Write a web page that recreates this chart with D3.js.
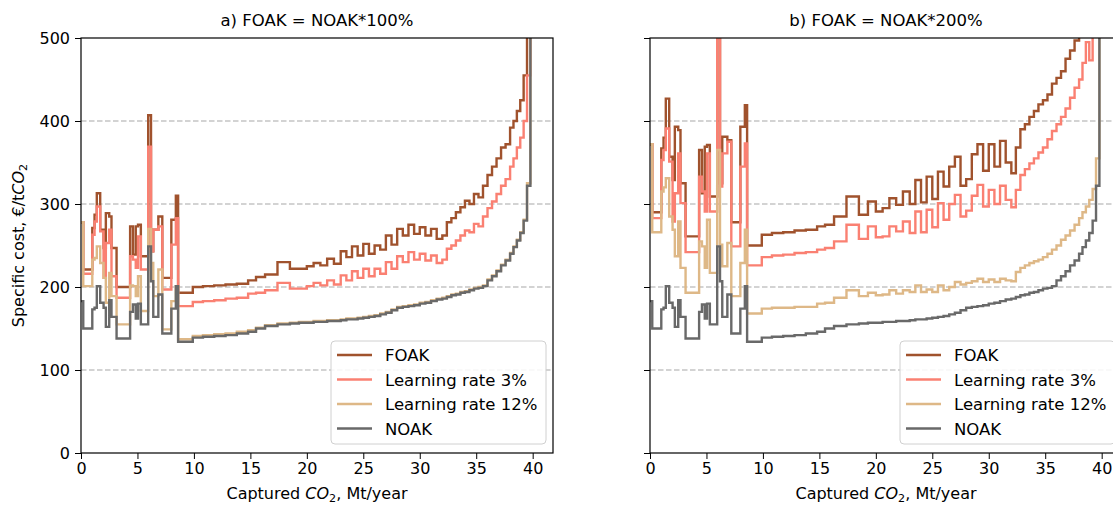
<!DOCTYPE html>
<html>
<head>
<meta charset="utf-8">
<script src="https://cdn.jsdelivr.net/npm/d3@7"></script>
<style>
  body { margin: 0; background: #fff; }
  svg text { font-family: "DejaVu Sans", sans-serif; fill: #000; }
</style>
</head>
<body>
<div id="chart"></div>
<script>
// Cumulative captured CO2 (Mt/year) where each plant step starts
const capacity = [
  0, 0.2, 1.0, 1.2, 1.4, 1.7, 2.0, 2.2, 2.5, 2.7,
  3.15, 4.35, 4.6, 4.85, 5.05, 5.3, 5.95, 6.2, 6.4, 6.85,
  7.2, 8.0, 8.4,
  8.6, 9.9, 10.8, 11.8, 12.8, 13.8, 14.8, 15.5, 16.3, 17.4,
  18.5, 19.3, 20.0, 20.6, 21.2, 21.8, 22.4, 23.0, 23.5, 24.0,
  24.5, 25.0, 25.5, 26.0, 26.5, 27.0, 27.5, 28.0, 28.5, 29.0,
  29.5, 30.0, 30.5, 31.0, 31.5, 32.0, 32.4, 32.8, 33.2, 33.6,
  34.0, 34.4, 34.8, 35.2, 35.6, 36.0, 36.4, 36.8, 37.2, 37.6,
  38.0, 38.3, 38.6, 38.9, 39.2, 39.5, 39.8
];
const capacityEnd = 39.85;

// NOAK cost, same in both panels (€/tCO2)
const noak = [
  183, 150, 173, 175, 201, 181, 175, 152, 184, 164,
  138, 170, 179, 162, 180, 155, 249, 207, 164, 191,
  144, 174, 201,
  134, 139, 140, 141, 142, 144, 146, 150, 153, 155,
  156, 157, 157, 158, 158, 159, 159, 160, 161, 161,
  162, 163, 164, 165, 167, 169, 172, 175, 176, 177,
  178, 180, 181, 183, 185, 186, 188, 190, 191, 193,
  194, 196, 198, 199, 201, 208, 213, 219, 226, 232,
  240, 248, 256, 265, 280, 322, 900
];

// panel a) FOAK = NOAK*100%
const foakA = [
  278, 221, 271, 287, 313, 269, 247, 289, 285, 247,
  200, 273, 239, 273, 275, 237, 407, 243, 269, 285,
  211, 281, 310,
  193, 200, 201, 202, 203, 204, 208, 212, 215, 230,
  222, 222, 225, 229, 226, 234, 228, 243, 236, 249,
  238, 252, 240, 250, 245, 262, 251, 270, 262, 275,
  264, 272, 262, 270, 258, 262, 278, 283, 290, 296,
  304, 300, 312, 308, 322, 335, 345, 355, 368, 372,
  392, 400, 412, 425, 455, 505, 900
];
const lr3A = [
  278, 216, 263, 279, 297, 267, 211, 253, 269, 213,
  187, 237, 233, 223, 261, 221, 369, 243, 269, 273,
  197, 251, 283,
  177, 182, 183, 184, 186, 187, 192, 193, 196, 205,
  198, 198, 201, 205, 202, 208, 203, 214, 208, 219,
  211, 222, 213, 222, 216, 230, 222, 237, 230, 242,
  233, 240, 232, 238, 229, 233, 246, 250, 256, 262,
  268, 266, 276, 273, 285, 295, 303, 312, 322, 330,
  345, 355, 368, 380, 400, 455, 900
];
const lr12A = [
  278, 201, 233, 235, 249, 229, 211, 181, 217, 189,
  155, 202, 201, 189, 213, 171, 270, 229, 189, 221,
  149, 183, 201,
  137, 141, 142, 143, 144, 146, 148, 151, 154, 156,
  157, 158, 158, 159, 159, 160, 160, 161, 162, 162,
  163, 164, 165, 166, 168, 170, 173, 176, 177, 178,
  179, 181, 182, 184, 186, 187, 189, 191, 192, 194,
  195, 197, 199, 200, 202, 209, 214, 220, 227, 233,
  241, 249, 257, 266, 281, 325, 900
];

// panel b) FOAK = NOAK*200%
const foakB = [
  372, 290, 367, 380, 427, 357, 329, 393, 389, 325,
  261, 365, 313, 369, 371, 309, 700, 325, 381, 377,
  278, 393, 419,
  250, 263, 265, 266, 268, 269, 273, 275, 285, 309,
  287, 303, 291, 295, 307, 299, 315, 300, 329, 302,
  333, 306, 339, 321, 345, 357, 322, 330, 360, 372,
  340, 372, 345, 376, 350, 337, 368, 390, 396, 405,
  412, 420, 425, 432, 445, 452, 460, 475, 485, 497,
  520, 540, 560, 600, 650, 700, 900
];
const lr3B = [
  372, 283, 353, 365, 391, 351, 279, 313, 361, 301,
  242, 333, 315, 291, 361, 291, 600, 321, 361, 375,
  249, 345, 373,
  226, 236, 238, 239, 241, 242, 245, 247, 255, 275,
  258, 273, 260, 261, 273, 267, 279, 265, 291, 266,
  293, 272, 301, 281, 300, 311, 285, 292, 310, 323,
  297, 317, 300, 322, 305, 296, 317, 335, 342, 349,
  355, 362, 368, 378, 388, 396, 405, 415, 428, 440,
  450, 470, 495, 473, 520, 600, 900
];
const lr12B = [
  372, 266, 315, 320, 331, 285, 269, 237, 279, 223,
  193, 255, 249, 223, 281, 217, 365, 251, 225, 253,
  189, 229, 269,
  168, 174, 175, 175, 176, 176, 180, 181, 187, 196,
  189, 193, 190, 191, 196, 192, 196, 194, 202, 194,
  197, 194, 202, 196, 200, 206, 203, 205, 207, 210,
  206, 209, 206, 210, 208, 207, 218, 223, 226, 229,
  231, 233, 236, 240, 245, 250, 257, 262, 268, 275,
  283, 290, 297, 305, 318, 355, 900
];

const seriesNames = ["FOAK", "Learning rate 3%", "Learning rate 12%", "NOAK"];
const seriesColors = ["#a0522d", "#fa8072", "#deb887", "#696969"];
const xTicks = [0, 5, 10, 15, 20, 25, 30, 35, 40];
const yTicks = [0, 100, 200, 300, 400, 500];
const titles = ["a) FOAK = NOAK*100%", "b) FOAK = NOAK*200%"];

const width = 1113, height = 506;
const plotW = 472, plotH = 415, plotTop = 38;
const fontSize = 16;

const svg = d3.select("#chart").append("svg")
    .attr("width", width)
    .attr("height", height);

const panels = [
    { left: 81, title: titles[0], series: [foakA, lr3A, lr12A, noak], yLabels: true },
    { left: 650, title: titles[1], series: [foakB, lr3B, lr12B, noak], yLabels: false }
];

const x = d3.scaleLinear().domain([0, 41.8]).range([0, plotW]);
const y = d3.scaleLinear().domain([0, 500]).range([plotH, 0]);

function co2Label(textSel, before, after) {
    textSel.append("tspan").text(before);
    textSel.append("tspan").attr("font-style", "italic").text("CO");
    textSel.append("tspan").attr("font-size", fontSize * 0.7).attr("dy", 3).text("2");
    textSel.append("tspan").attr("dy", -3).text(after);
}

panels.forEach((p, pi) => {
    const g = svg.append("g").attr("transform", `translate(${p.left}, ${plotTop})`);

    g.append("defs").append("clipPath").attr("id", "clip" + pi)
        .append("rect").attr("width", plotW).attr("height", plotH);

    // dashed grid lines
    g.append("g")
        .selectAll("line")
        .data(yTicks.slice(1, -1))
        .enter()
        .append("line")
        .attr("x1", 0).attr("x2", plotW)
        .attr("y1", d => y(d)).attr("y2", d => y(d))
        .attr("stroke", "#a8a8a8")
        .attr("stroke-width", 1.2)
        .attr("stroke-dasharray", "5.5,2.5");

    // step lines
    const line = d3.line()
        .x(d => x(d[0]))
        .y(d => y(d[1]))
        .curve(d3.curveStepAfter);

    const lines = g.append("g").attr("clip-path", `url(#clip${pi})`);
    p.series.forEach((vals, si) => {
        const pts = capacity.map((c, i) => [c, vals[i]]);
        pts.push([capacityEnd, vals[vals.length - 1]]);
        lines.append("path")
            .datum(pts)
            .attr("fill", "none")
            .attr("stroke", seriesColors[si])
            .attr("stroke-width", 2.4)
            .attr("stroke-linejoin", "miter")
            .attr("d", line);
    });

    // axes
    const xAxis = g.append("g")
        .attr("transform", `translate(0, ${plotH})`)
        .call(d3.axisBottom(x).tickValues(xTicks).tickSize(6).tickPadding(4));
    const yAxis = g.append("g")
        .call(d3.axisLeft(y).tickValues(yTicks).tickSize(6).tickPadding(5)
            .tickFormat(p.yLabels ? d3.format("d") : () => ""));
    [xAxis, yAxis].forEach(a => {
        a.select(".domain").remove();
        a.selectAll("line").attr("stroke", "#000").attr("stroke-width", 1);
        a.selectAll("text").attr("font-size", fontSize).attr("font-family", "DejaVu Sans");
    });

    // frame
    g.append("rect")
        .attr("width", plotW).attr("height", plotH)
        .attr("fill", "none").attr("stroke", "#000").attr("stroke-width", 1.2);

    // title
    g.append("text")
        .attr("x", plotW / 2).attr("y", -12)
        .attr("text-anchor", "middle")
        .attr("font-size", 16.5)
        .text(p.title);

    // x label
    const xl = g.append("text")
        .attr("x", plotW / 2).attr("y", plotH + 46)
        .attr("text-anchor", "middle")
        .attr("font-size", fontSize);
    co2Label(xl, "Captured ", ", Mt/year");

    // y label
    if (p.yLabels) {
        const yl = g.append("text")
            .attr("transform", `translate(-57, ${plotH / 2}) rotate(-90)`)
            .attr("text-anchor", "middle")
            .attr("font-size", fontSize);
        co2Label(yl, "Specific cost, €/t", "");
    }

    // legend
    const legend = g.append("g")
        .attr("transform", `translate(${plotW - 222}, ${plotH - 112})`);
    legend.append("rect")
        .attr("width", 215).attr("height", 103)
        .attr("rx", 4)
        .attr("fill", "#fff").attr("fill-opacity", 0.85)
        .attr("stroke", "#d0d0d0");
    seriesNames.forEach((name, si) => {
        const ly = 14 + si * 24.5;
        legend.append("line")
            .attr("x1", 6).attr("x2", 41)
            .attr("y1", ly).attr("y2", ly)
            .attr("stroke", seriesColors[si])
            .attr("stroke-width", 2.4);
        legend.append("text")
            .attr("x", 54).attr("y", ly + 6)
            .attr("font-size", 16.5)
            .text(name);
    });
});
</script>
</body>
</html>
